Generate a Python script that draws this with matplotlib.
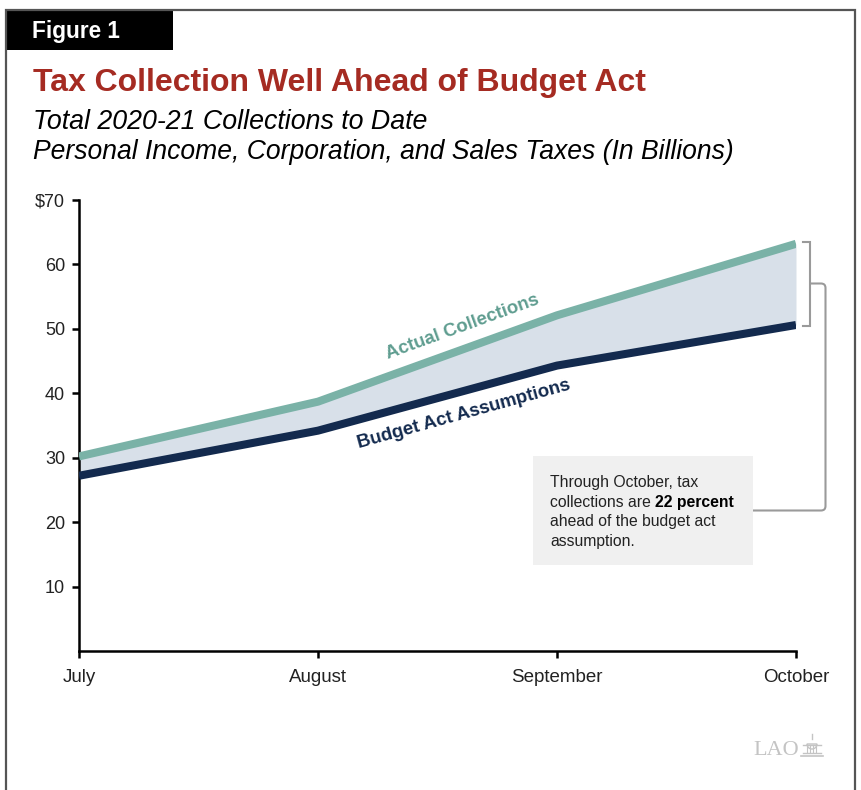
import matplotlib
matplotlib.use("Agg")
import matplotlib.pyplot as plt
from matplotlib.patches import Rectangle, Wedge
from matplotlib.path import Path
from matplotlib.patches import PathPatch

plt.rcParams['font.family'] = ['Liberation Sans', 'DejaVu Sans']

# Monthly cumulative collections, billions of dollars
months = ["July", "August", "September", "October"]
actual = [30.2, 38.7, 52.1, 63.2]
budget_act = [27.2, 34.2, 44.3, 50.6]
y_ticks = [10, 20, 30, 40, 50, 60, 70]
y_tick_labels = ["10", "20", "30", "40", "50", "60", "$70"]

GREEN = "#7ab2a7"
GREEN_TXT = "#5f9d90"
NAVY = "#132a4e"
FILL = "#d8e0e9"
RED = "#a52b22"

W, H = 862, 790
fig = plt.figure(figsize=(W / 100, H / 100), dpi=100)

# overlay in pixel coordinates for frame and decorations
ov = fig.add_axes([0, 0, 1, 1], zorder=0)
ov.set_xlim(0, W)
ov.set_ylim(H, 0)
ov.axis("off")

# outer frame (open at the bottom)
ov.plot([6, 6, 855, 855], [H + 5, 10, 10, H + 5], color="#555555", lw=1.6,
        solid_joinstyle="miter")
ov.add_patch(Rectangle((6, 10), 167, 40, facecolor="black", edgecolor="none"))
ov.text(32, 38, "Figure 1", color="white", fontsize=16.3, fontweight="bold",
        ha="left", va="baseline")

ov.text(33, 91.5, "Tax Collection Well Ahead of Budget Act", color=RED,
        fontsize=23, fontweight="bold", ha="left", va="baseline")
ov.text(33, 129, "Total 2020-21 Collections to Date", fontsize=19.3,
        style="italic", ha="left", va="baseline", color="black")
ov.text(33, 159, "Personal Income, Corporation, and Sales Taxes (In Billions)",
        fontsize=19.1, style="italic", ha="left", va="baseline", color="black")

# main chart
ax = fig.add_axes([79 / W, (H - 651) / H, 717 / W, 451 / H], zorder=2)
ax.patch.set_alpha(0)
x = list(range(len(months)))
ax.fill_between(x, budget_act, actual, color=FILL, lw=0, zorder=1)
ax.plot(x, actual, color=GREEN, lw=5.8, solid_capstyle="butt",
        solid_joinstyle="round", zorder=3)
ax.plot(x, budget_act, color=NAVY, lw=5.8, solid_capstyle="butt",
        solid_joinstyle="round", zorder=3)
ax.set_xlim(0, len(months) - 1)
ax.set_ylim(0, 70)
ax.set_xticks(x)
ax.set_xticklabels(months, fontsize=13.5, color="#222222")
ax.set_yticks(y_ticks)
ax.set_yticklabels(y_tick_labels, fontsize=13, color="#222222")
for s in ("top", "right"):
    ax.spines[s].set_visible(False)
for s in ("left", "bottom"):
    ax.spines[s].set_linewidth(1.8)
    ax.spines[s].set_color("black")
ax.tick_params(axis="both", length=5, width=1.8, color="black")
ax.tick_params(axis="x", pad=8)
ax.tick_params(axis="y", pad=5)

# series labels
ov.text(463, 327, "Actual Collections", color=GREEN_TXT, fontsize=13.4,
        fontweight="bold", rotation=20, ha="center", va="center",
        rotation_mode="anchor", zorder=5)
ov.text(464, 414, "Budget Act Assumptions", color=NAVY, fontsize=13.4,
        fontweight="bold", rotation=15.5, ha="center", va="center",
        rotation_mode="anchor", zorder=5)

# bracket spanning the October gap
BR = "#9a9a9a"
ov.plot([803, 810, 810, 803], [242, 242, 326, 326], color=BR, lw=1.5,
        solid_joinstyle="miter", zorder=4)
verts = [(810, 283.5), (821, 283.5), (825.5, 283.5), (825.5, 288),
         (825.5, 506), (825.5, 510.5), (821, 510.5), (753, 510.5)]
codes = [Path.MOVETO, Path.LINETO, Path.CURVE3, Path.CURVE3,
         Path.LINETO, Path.CURVE3, Path.CURVE3, Path.LINETO]
ov.add_patch(PathPatch(Path(verts, codes), facecolor="none", edgecolor=BR,
                       lw=1.5, zorder=4))

# callout box
ov.add_patch(Rectangle((533, 456), 220, 109, facecolor="#f0f0f0",
                       edgecolor="none", zorder=5))
fs = 11.3
ov.text(550, 487.5, "Through October, tax", fontsize=fs, color="#222222",
        ha="left", va="baseline", zorder=6)
t1 = ov.text(550, 507, "collections are ", fontsize=fs, color="#222222",
             ha="left", va="baseline", zorder=6)
ov.text(550, 526.3, "ahead of the budget act", fontsize=fs, color="#222222",
        ha="left", va="baseline", zorder=6)
ov.text(550, 545.6, "assumption.", fontsize=fs, color="#222222",
        ha="left", va="baseline", zorder=6)
fig.canvas.draw()
ov.annotate("22 percent", xy=(1, 0), xycoords=t1, xytext=(0, 0),
            textcoords="offset points", fontsize=fs, fontweight="bold",
            color="black", ha="left", va="bottom", zorder=6)

# LAO mark
LOGO = "#c4c4c4"
ov.text(753, 755, "LAO", fontsize=16, family=["Liberation Serif"],
        color=LOGO, ha="left", va="baseline")
ov.add_patch(Wedge((812, 744), 5, 0, 180, facecolor="none", edgecolor=LOGO,
                   lw=1.0))
ov.plot([812, 812], [734, 739], color=LOGO, lw=1.0)
for xx in (807.5, 810.5, 813.5, 816.5):
    ov.plot([xx, xx], [745, 752], color=LOGO, lw=0.8)
ov.plot([803, 821], [745, 745], color=LOGO, lw=1.0)
ov.plot([803, 821], [752.5, 752.5], color=LOGO, lw=1.0)
ov.plot([801, 823], [755.5, 755.5], color=LOGO, lw=1.2)

fig.savefig("out.png", dpi=100)
